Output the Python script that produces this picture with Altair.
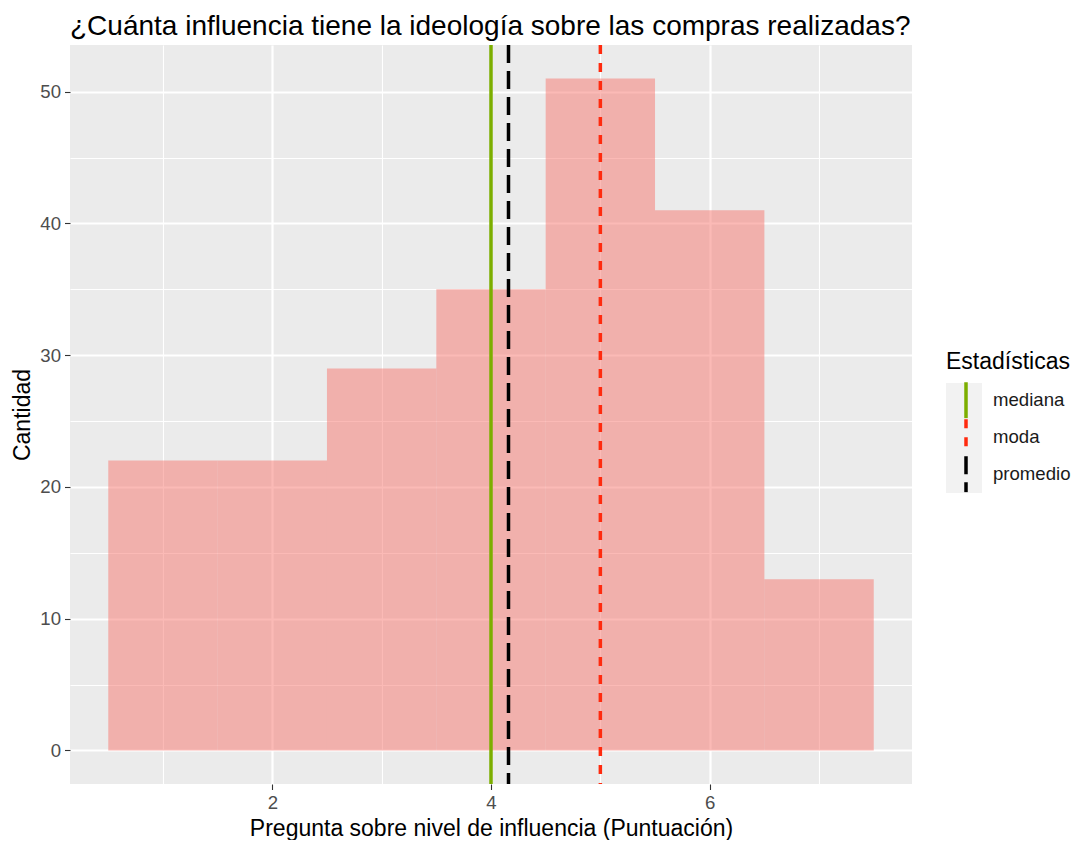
import altair as alt
import pandas as pd

# ---- data ----
puntuacion = [1, 2, 3, 4, 5, 6, 7]
cantidad = [22, 22, 29, 35, 51, 41, 13]
estadisticas = ["mediana", "moda", "promedio"]
valores_est = [4.0, 5.0, 4.16]
colores_est = ["#7CAE00", "#FF2A0E", "#000000"]
dash_est = [[1, 0], [9, 9], [18, 8]]
x_ticks = [1, 2, 3, 4, 5, 6, 7]
y_ticks = [0, 5, 10, 15, 20, 25, 30, 35, 40, 45, 50]

FONT = "Liberation Sans"

bars_df = pd.DataFrame({"puntuacion": puntuacion, "cantidad": cantidad})
bars_df["x0"] = bars_df["puntuacion"] - 0.5
bars_df["x1"] = bars_df["puntuacion"] + 0.5
stats_df = pd.DataFrame({"estadistica": estadisticas, "valor": valores_est})

x_scale = alt.Scale(domain=[0.15, 7.85], nice=False, zero=False)
y_scale = alt.Scale(domain=[-2.55, 53.55], nice=False, zero=False)

x_axis = alt.Axis(
    values=x_ticks,
    labelExpr="datum.value % 2 === 0 ? datum.label : ''",
    title="Pregunta sobre nivel de influencia (Puntuación)",
    gridWidth={"condition": {"test": "datum.value % 2 === 0", "value": 2.2}, "value": 1.1},
    tickOpacity={"condition": {"test": "datum.value % 2 === 0", "value": 1}, "value": 0},
    labelPadding=4,
    titleY=51,
    titleBaseline="alphabetic",
)
y_axis = alt.Axis(
    values=y_ticks,
    labelExpr="datum.value % 10 === 0 ? datum.label : ''",
    title="Cantidad",
    gridWidth={"condition": {"test": "datum.value % 10 === 0", "value": 2.2}, "value": 1.1},
    tickOpacity={"condition": {"test": "datum.value % 10 === 0", "value": 1}, "value": 0},
    titlePadding=5,
    labelPadding=4,
)

bars = alt.Chart(bars_df).mark_rect(color="#F8766D", opacity=0.5, strokeWidth=0).encode(
    x=alt.X("x0:Q", scale=x_scale, axis=x_axis),
    x2="x1:Q",
    y=alt.Y("cantidad:Q", scale=y_scale, axis=y_axis),
    y2=alt.datum(0),
)

legend = alt.Legend(
    title="Estadísticas",
    orient="none",
    legendX=876,
    legendY=306,
    symbolType="M0,-1L0,1",
    symbolSize=1296,
    symbolStrokeWidth=3.5,
    labelFontSize=18.6,
    labelFont=FONT,
    labelColor="#1A1A1A",
    labelOffset=7,
    titleFontSize=23,
    titleFont=FONT,
    titleFontWeight="normal",
    titleColor="black",
    titlePadding=8,
    rowPadding=0,
    clipHeight=36.5,
)

rules = alt.Chart(stats_df).mark_rule(strokeWidth=3.5).encode(
    x=alt.X("valor:Q", scale=x_scale, axis=x_axis),
    color=alt.Color("estadistica:N", scale=alt.Scale(domain=estadisticas, range=colores_est), legend=legend),
    strokeDash=alt.StrokeDash("estadistica:N", scale=alt.Scale(domain=estadisticas, range=dash_est), legend=legend),
)

key_bg = alt.Chart(alt.Data(values=[{"k": 1}])).mark_rect(color="#F2F2F2").encode(
    x=alt.value(876), x2=alt.value(912), y=alt.value(338), y2=alt.value(448)
)

chart = alt.layer(key_bg, bars, rules).properties(
    width=842,
    height=739,
    autosize=alt.AutoSizeParams(type="none"),
    padding={"left": 62, "top": 37, "right": 159, "bottom": 56},
    background="white",
    title=alt.Title(
        "¿Cuánta influencia tiene la ideología sobre las compras realizadas?",
        anchor="start",
        frame="group",
        fontSize=28,
        font=FONT,
        fontWeight="normal",
        color="black",
        offset=2,
    ),
).configure_view(
    fill="#EBEBEB", stroke=None
).configure_axis(
    domain=False,
    tickColor="#333333",
    tickSize=5.5,
    tickWidth=1.1,
    labelColor="#4D4D4D",
    labelFontSize=18.6,
    labelFont=FONT,
    titleFontSize=23,
    titleFont=FONT,
    titleColor="black",
    titleFontWeight="normal",
    gridColor="white",
)

chart.save("out.html", embed_options={"renderer": "svg", "actions": False})
